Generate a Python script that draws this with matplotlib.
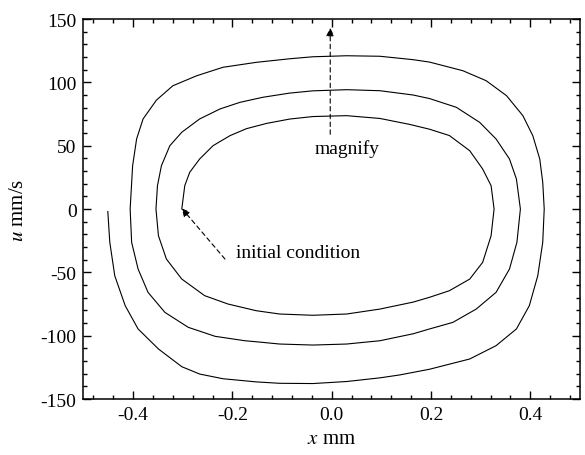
import matplotlib.pyplot as plt
import numpy as np
from matplotlib.ticker import MultipleLocator

plt.rcParams["font.family"] = ["Liberation Serif", "DejaVu Serif"]
plt.rcParams["mathtext.fontset"] = "stix"

# phase trajectory, split into half turns (x in mm, u in mm/s)
x_turn1_top = [-0.302, -0.296, -0.286, -0.266, -0.239, -0.205, -0.172, -0.131, -0.085,
               -0.038, 0.030, 0.097, 0.157, 0.197, 0.237, 0.278, 0.304, 0.321, 0.327]
u_turn1_top = [0.0, 18.4, 29.0, 39.5, 50.0, 57.9, 63.4, 67.6, 71.0,
               73.0, 73.7, 71.5, 66.8, 63.0, 58.0, 46.0, 31.6, 18.4, 0.0]
x_turn1_bot = [0.321, 0.304, 0.278, 0.237, 0.197, 0.164, 0.097, 0.030, -0.038, -0.105,
               -0.152, -0.209, -0.256, -0.302, -0.333, -0.349, -0.354]
u_turn1_bot = [-21.1, -42.1, -55.3, -64.5, -69.7, -73.5, -79.0, -82.9, -83.9, -82.9,
               -80.3, -75.0, -68.4, -55.3, -39.5, -21.1, 0.0]

x_turn2_top = [-0.351, -0.343, -0.326, -0.302, -0.266, -0.225, -0.185, -0.139, -0.085,
               -0.038, 0.030, 0.097, 0.164, 0.197, 0.251, 0.298, 0.331, 0.358, 0.372, 0.380]
u_turn2_top = [18.4, 34.2, 50.0, 60.6, 71.1, 79.0, 84.2, 88.2, 91.5,
               93.3, 94.2, 93.4, 90.0, 87.2, 80.3, 68.4, 55.3, 39.5, 23.7, 0.0]
x_turn2_bot = [0.373, 0.358, 0.331, 0.291, 0.244, 0.197, 0.164, 0.097, 0.030, -0.038,
               -0.105, -0.152, -0.175, -0.235, -0.289, -0.336, -0.370, -0.390, -0.403, -0.406]
u_turn2_bot = [-26.3, -47.4, -65.8, -79.0, -89.5, -94.7, -98.5, -104.0, -106.6, -107.4,
               -106.6, -104.8, -104.0, -100.5, -93.4, -81.6, -65.8, -47.4, -26.3, 0.0]

x_turn3_top = [-0.401, -0.393, -0.380, -0.353, -0.320, -0.272, -0.219, -0.152, -0.085,
               -0.038, 0.030, 0.097, 0.164, 0.197, 0.264, 0.311, 0.352, 0.385, 0.405,
               0.419, 0.425, 0.428]
u_turn3_top = [34.2, 55.3, 71.1, 86.0, 97.3, 105.2, 111.9, 115.8, 118.6,
               120.2, 121.0, 120.6, 117.9, 116.0, 109.2, 101.3, 89.5, 73.7, 57.9,
               39.5, 21.1, 0.0]
x_turn3_bot = [0.425, 0.415, 0.398, 0.372, 0.331, 0.278, 0.197, 0.137, 0.097, 0.030,
               -0.038, -0.105, -0.152, -0.219, -0.266, -0.302, -0.349, -0.390, -0.416,
               -0.437, -0.447, -0.451]
u_turn3_bot = [-26.3, -52.7, -76.3, -94.7, -107.9, -118.4, -126.5, -131.0, -133.3, -136.2,
               -137.8, -137.6, -136.5, -134.0, -130.3, -124.5, -110.5, -94.7, -76.3,
               -52.7, -26.3, -2.0]

x_traj = np.concatenate([x_turn1_top, x_turn1_bot, x_turn2_top, x_turn2_bot,
                         x_turn3_top, x_turn3_bot])
u_traj = np.concatenate([u_turn1_top, u_turn1_bot, u_turn2_top, u_turn2_bot,
                         u_turn3_top, u_turn3_bot])

fig = plt.figure(figsize=(5.85, 4.56), dpi=100)
ax = fig.add_axes([0.1427, 0.1228, 0.8487, 0.8333])

ax.plot(x_traj, u_traj, color="black", linewidth=0.8, solid_joinstyle="round")

dash = (0, (4, 3))
ax.annotate("", xy=(-0.003, 143), xytext=(-0.003, 59),
            arrowprops=dict(arrowstyle="-|>", color="black", lw=0.8, linestyle=dash,
                            mutation_scale=12, shrinkA=0, shrinkB=0))
ax.text(0.032, 48, "magnify", fontsize=14, ha="center", va="center")

ax.annotate("", xy=(-0.302, 0.5), xytext=(-0.215, -39.5),
            arrowprops=dict(arrowstyle="-|>", color="black", lw=0.8, linestyle=dash,
                            mutation_scale=12, shrinkA=0, shrinkB=0))
ax.text(-0.192, -34, "initial condition", fontsize=14, ha="left", va="center")

ax.set_xlim(-0.5, 0.5)
ax.set_ylim(-150, 150)
ax.xaxis.set_minor_locator(MultipleLocator(0.04))
ax.yaxis.set_minor_locator(MultipleLocator(10))
ax.set_xticks([-0.4, -0.2, 0.0, 0.2, 0.4])
ax.set_xticklabels(["-0.4", "-0.2", "0.0", "0.2", "0.4"])
ax.set_yticks([-150, -100, -50, 0, 50, 100, 150])
ax.set_yticklabels(["-150", "-100", "-50", "0", "50", "100", "150"])
ax.tick_params(which="both", direction="in", top=True, right=True, labelsize=14, width=1)
ax.tick_params(which="major", length=6, pad=5)
ax.tick_params(which="minor", length=3)
for s in ax.spines.values():
    s.set_linewidth(1.1)

ax.set_xlabel("$x$ mm", fontsize=15, labelpad=4)
ax.set_ylabel("$u$ mm/s", fontsize=15, labelpad=9)

fig.savefig("out.png", dpi=100)
